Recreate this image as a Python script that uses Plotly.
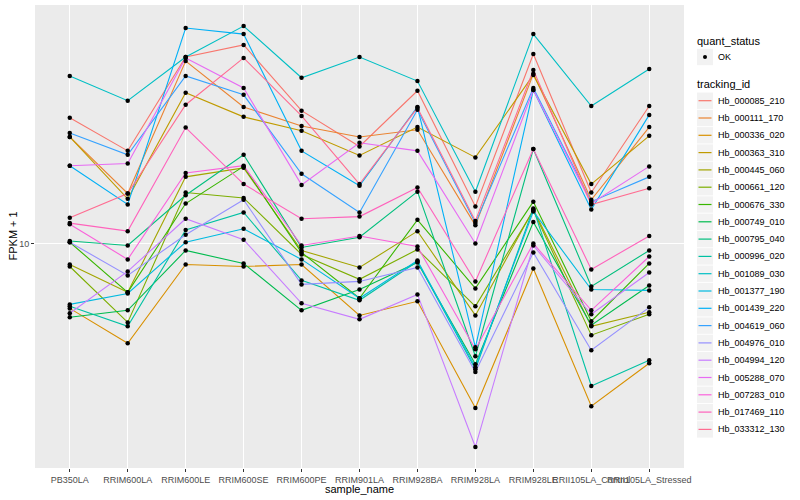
import plotly.graph_objects as go
import numpy as np

# ---------------- data (FPKM + 1) ----------------
samples = ["PB350LA", "RRIM600LA", "RRIM600LE", "RRIM600SE", "RRIM600PE",
           "RRIM901LA", "RRIM928BA", "RRIM928LA", "RRIM928LE",
           "RRII105LA_Control", "RRII105LA_Stressed"]

tracking_ids = ["Hb_000085_210", "Hb_000111_170", "Hb_000336_020", "Hb_000363_310",
                "Hb_000445_060", "Hb_000661_120", "Hb_000676_330", "Hb_000749_010",
                "Hb_000795_040", "Hb_000996_020", "Hb_001089_030", "Hb_001377_190",
                "Hb_001439_220", "Hb_004619_060", "Hb_004976_010", "Hb_004994_120",
                "Hb_005288_070", "Hb_007283_010", "Hb_017469_110", "Hb_033312_130"]

Hb_000085_210 = [26.3, 20.4, 42.0, 46.1, 27.8, 21.1, 32.4, 13.3, 43.0, 14.8, 28.8]
Hb_000111_170 = [22.7, 14.7, 40.7, 28.6, 24.7, 22.7, 24.0, 11.5, 36.9, 14.0, 24.5]
Hb_000336_020 = [6.07, 4.64, 8.51, 8.38, 8.51, 5.75, 6.41, 2.82, 8.25, 2.86, 3.98]
Hb_000363_310 = [22.7, 14.1, 31.9, 26.5, 23.8, 19.7, 24.5, 19.4, 36.6, 15.8, 22.9]
Hb_000445_060 = [8.51, 6.87, 16.7, 17.9, 9.48, 8.32, 11.0, 5.75, 13.0, 5.29, 5.89]
Hb_000661_120 = [8.38, 5.45, 14.8, 14.2, 9.19, 7.59, 9.55, 6.17, 12.9, 4.94, 5.80]
Hb_000676_330 = [10.1, 6.87, 13.6, 18.1, 9.33, 6.56, 12.0, 7.08, 13.8, 5.50, 8.58]
Hb_000749_010 = [5.67, 5.98, 9.48, 8.58, 5.98, 7.02, 8.64, 3.95, 11.8, 5.33, 7.24]
Hb_000795_040 = [10.2, 9.85, 14.5, 19.8, 9.70, 10.5, 14.9, 4.20, 20.7, 7.19, 9.48]
Hb_000996_020 = [6.17, 5.29, 11.1, 12.7, 7.53, 6.46, 8.71, 3.80, 13.1, 3.34, 4.07]
Hb_001089_030 = [36.3, 30.0, 42.0, 53.3, 35.8, 42.0, 34.9, 14.9, 50.1, 28.8, 38.3]
Hb_001377_190 = [6.26, 6.81, 10.1, 11.2, 8.85, 6.56, 8.78, 3.86, 12.8, 7.02, 6.97]
Hb_001439_220 = [18.2, 13.5, 52.5, 50.1, 20.4, 15.6, 28.6, 4.50, 32.6, 13.0, 26.9]
Hb_004619_060 = [23.4, 19.8, 36.3, 31.4, 17.1, 12.7, 28.0, 11.7, 33.1, 13.8, 16.7]
Hb_004976_010 = [10.1, 7.82, 10.7, 14.0, 7.30, 7.47, 8.32, 3.72, 9.33, 4.40, 6.12]
Hb_004994_120 = [5.85, 8.07, 12.1, 10.3, 6.31, 5.58, 6.76, 2.09, 9.85, 5.80, 8.00]
Hb_005288_070 = [18.2, 18.5, 41.7, 33.1, 15.7, 21.7, 20.4, 10.0, 32.6, 13.6, 18.1]
Hb_007283_010 = [11.6, 8.85, 17.2, 18.2, 9.85, 10.6, 9.77, 4.43, 10.0, 5.98, 9.05]
Hb_017469_110 = [11.7, 11.0, 24.4, 15.8, 12.1, 12.3, 15.4, 7.47, 20.7, 8.19, 10.6]
Hb_033312_130 = [12.2, 14.7, 29.1, 41.7, 26.7, 15.8, 28.4, 11.9, 38.0, 13.5, 15.3]

series = [Hb_000085_210, Hb_000111_170, Hb_000336_020, Hb_000363_310, Hb_000445_060,
          Hb_000661_120, Hb_000676_330, Hb_000749_010, Hb_000795_040, Hb_000996_020,
          Hb_001089_030, Hb_001377_190, Hb_001439_220, Hb_004619_060, Hb_004976_010,
          Hb_004994_120, Hb_005288_070, Hb_007283_010, Hb_017469_110, Hb_033312_130]

quant_status = ["OK"]

# ggplot2 default hue palette for 20 levels
colors = ["#F8766D", "#EA8331", "#D89000", "#C09B00", "#A3A500", "#7CAE00", "#39B600",
          "#00BB4E", "#00BF7D", "#00C1A3", "#00BFC4", "#00BAE0", "#00B0F6", "#35A2FF",
          "#9590FF", "#C77CFF", "#E76BF3", "#FA62DB", "#FF62BC", "#FF6C91"]

FONT = "Liberation Sans, Arial, Helvetica, sans-serif"

fig = go.Figure()

# lines
for tid, vals, col in zip(tracking_ids, series, colors):
    fig.add_trace(go.Scatter(x=samples, y=vals, mode="lines", name=tid,
                             line=dict(color=col, width=1.1), showlegend=False,
                             hoverinfo="skip"))
# points
for tid, vals in zip(tracking_ids, series):
    fig.add_trace(go.Scatter(x=samples, y=vals, mode="markers", name=tid,
                             marker=dict(color="black", size=4.5, symbol="circle"),
                             showlegend=False))

# y range with ggplot's 5% expansion in log space
allv = np.log10(np.concatenate([np.array(s, dtype=float) for s in series]))
lo, hi = allv.min(), allv.max()
pad = (hi - lo) * 0.05
yrange = [lo - pad, hi + pad]

# panel geometry in pixels
PL, PR, PT, PB = 35, 684, 5, 468
W, H = 800, 500


def pxx(px):
    return (px - PL) / (PR - PL)


def pxy(py):
    return (PB - py) / (PB - PT)


shapes = []
annotations = []

# axis titles
annotations.append(dict(text="sample_name", x=pxx((PL + PR) / 2), y=pxy(489),
                        xref="paper", yref="paper", showarrow=False,
                        xanchor="center", yanchor="middle",
                        font=dict(family=FONT, size=11, color="black")))
annotations.append(dict(text="FPKM + 1", x=pxx(12), y=pxy((PT + PB) / 2),
                        xref="paper", yref="paper", showarrow=False, textangle=-90,
                        xanchor="center", yanchor="middle",
                        font=dict(family=FONT, size=11, color="black")))

# ---- legend (ggplot-like) ----
LX = 697
KEYW = 16
annotations.append(dict(text="quant_status", x=pxx(695), y=pxy(41),
                        xref="paper", yref="paper", showarrow=False,
                        xanchor="left", yanchor="middle",
                        font=dict(family=FONT, size=11, color="black")))
cy = 57
shapes.append(dict(type="rect", xref="paper", yref="paper",
                   x0=pxx(LX), x1=pxx(LX + KEYW), y0=pxy(cy - 8.2), y1=pxy(cy + 8.2),
                   fillcolor="#F2F2F2", line=dict(width=0), layer="above"))
shapes.append(dict(type="circle", xref="paper", yref="paper",
                   x0=pxx(LX + KEYW / 2 - 2), x1=pxx(LX + KEYW / 2 + 2),
                   y0=pxy(cy - 2), y1=pxy(cy + 2),
                   fillcolor="black", line=dict(width=0), layer="above"))
for q in quant_status:
    annotations.append(dict(text=q, x=pxx(LX + KEYW + 3), y=pxy(cy),
                            xref="paper", yref="paper", showarrow=False,
                            xanchor="left", yanchor="middle",
                            font=dict(family=FONT, size=9, color="black")))

annotations.append(dict(text="tracking_id", x=pxx(695), y=pxy(84),
                        xref="paper", yref="paper", showarrow=False,
                        xanchor="left", yanchor="middle",
                        font=dict(family=FONT, size=11, color="black")))
STEP = 17.3
for i, (tid, col) in enumerate(zip(tracking_ids, colors)):
    cy = 100.7 + STEP * i
    shapes.append(dict(type="rect", xref="paper", yref="paper",
                       x0=pxx(LX), x1=pxx(LX + KEYW), y0=pxy(cy - 8.2), y1=pxy(cy + 8.2),
                       fillcolor="#F2F2F2", line=dict(width=0), layer="above"))
    shapes.append(dict(type="line", xref="paper", yref="paper",
                       x0=pxx(LX + 1.5), x1=pxx(LX + KEYW - 1.5), y0=pxy(cy), y1=pxy(cy),
                       line=dict(color=col, width=1.2), layer="above"))
    annotations.append(dict(text=tid, x=pxx(LX + KEYW + 3), y=pxy(cy),
                            xref="paper", yref="paper", showarrow=False,
                            xanchor="left", yanchor="middle",
                            font=dict(family=FONT, size=9, color="black")))

fig.update_layout(
    width=W, height=H,
    margin=dict(l=PL, r=W - PR, t=PT, b=H - PB, pad=0),
    paper_bgcolor="white", plot_bgcolor="#EBEBEB",
    font=dict(family=FONT, size=9, color="#4D4D4D"),
    showlegend=False,
    shapes=shapes, annotations=annotations,
    xaxis=dict(type="category", categoryorder="array", categoryarray=samples,
               range=[-0.6, len(samples) - 1 + 0.6],
               showgrid=True, gridcolor="white", gridwidth=1.1,
               zeroline=False, showline=False,
               ticks="outside", ticklen=3, tickwidth=1, tickcolor="#333333",
               tickangle=0, tickfont=dict(family=FONT, size=9, color="#4D4D4D"),
               fixedrange=True),
    yaxis=dict(type="log", range=yrange,
               tickmode="array", tickvals=[10], ticktext=["10"],
               showgrid=True, gridcolor="white", gridwidth=1.1,
               zeroline=False, showline=False,
               ticks="outside", ticklen=3, tickwidth=1, tickcolor="#333333",
               tickfont=dict(family=FONT, size=9, color="#4D4D4D"),
               fixedrange=True),
)

fig.write_html("out.html", config={"displayModeBar": False},
               post_script="document.body.style.margin='0px';"
                           "document.body.style.padding='0px';")
